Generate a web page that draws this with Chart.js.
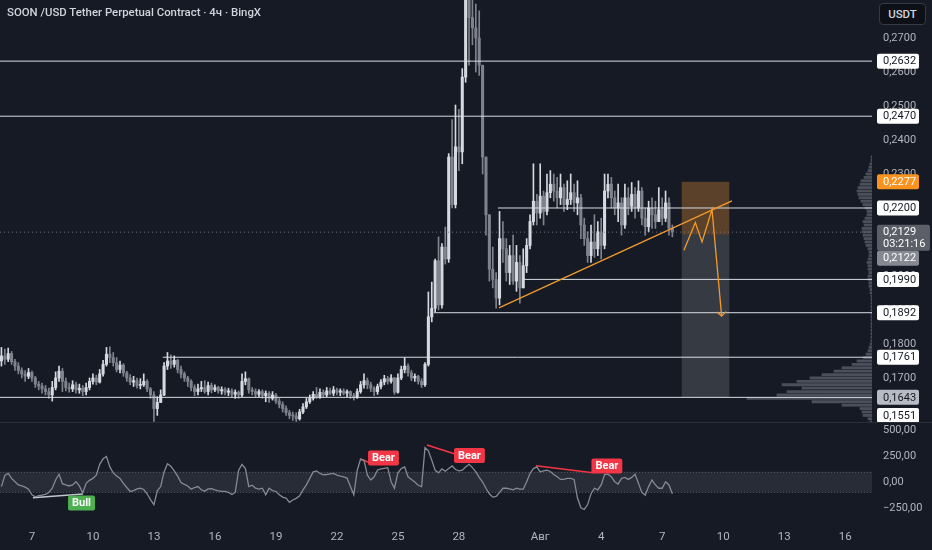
<!DOCTYPE html>
<html>
<head>
<meta charset="utf-8">
<title>SOON /USDT 4h</title>
<script src="https://cdn.jsdelivr.net/npm/chart.js@4.4.1/dist/chart.umd.min.js"></script>
<style>
  html, body { margin: 0; padding: 0; background: #161a25; }
  #wrap { position: relative; width: 932px; height: 550px; overflow: hidden; background: #161a25; }
  #priceChart { position: absolute; left: 0; top: 0; }
  #cciChart { position: absolute; left: 0; top: 423px; }
  #sep { position: absolute; left: 0; top: 422px; width: 932px; height: 1px; background: #2a2e39; }
  #title { position: absolute; left: 7px; top: 5px; font: 500 11.4px Roboto, sans-serif; line-height: 15px; color: #d1d4dc; z-index: 2; }
  #unit { position: absolute; left: 879px; top: 3px; width: 47px; height: 22px; box-sizing: border-box; border: 1px solid #363a45; border-radius: 4px; background: #0e1017; color: #d1d4dc; font: 500 11.5px Roboto, sans-serif; line-height: 20px; text-align: center; z-index: 2; }
</style>
</head>
<body>
<div id="wrap">
  <canvas id="priceChart" width="932" height="423"></canvas>
  <div id="sep"></div>
  <canvas id="cciChart" width="932" height="127"></canvas>
  <div id="title">SOON /USD Tether Perpetual Contract · 4ч · BingX</div>
  <div id="unit">USDT</div>
</div>
<script>
const xMin = 5.43, xMax = 48.32;
const priceMin = 0.15676, priceMax = 0.28118;
const cciMin = -346, cciMax = 548;

// candles: 4h each, starting 5 Jul 12:00 (day numbers counted from 1 Jul = 1)
const firstDay = 5.5;
const candleStep = 4 / 24;
const firstOpen = 0.1750;

const closes = [
  0.1765, 0.1755, 0.1772, 0.1748, 0.1735, 0.1722, 0.1712, 0.1705, 0.1716, 0.1700,
  0.1682, 0.1676, 0.1668, 0.1660, 0.1650, 0.1672, 0.1700, 0.1720, 0.1690, 0.1672,
  0.1668, 0.1680, 0.1665, 0.1670, 0.1660, 0.1672, 0.1690, 0.1700, 0.1688, 0.1712,
  0.1740, 0.1770, 0.1760, 0.1745, 0.1725, 0.1738, 0.1715, 0.1700, 0.1688, 0.1692,
  0.1678, 0.1680, 0.1690, 0.1668, 0.1650, 0.1610, 0.1628, 0.1650, 0.1735, 0.1750,
  0.1740, 0.1752, 0.1725, 0.1712, 0.1700, 0.1690, 0.1672, 0.1660, 0.1668, 0.1672,
  0.1660, 0.1678, 0.1665, 0.1672, 0.1662, 0.1666, 0.1658, 0.1662, 0.1652, 0.1658,
  0.1650, 0.1690, 0.1698, 0.1665, 0.1660, 0.1652, 0.1660, 0.1648, 0.1655, 0.1640,
  0.1650, 0.1632, 0.1622, 0.1610, 0.1598, 0.1590, 0.1588, 0.1580, 0.1600, 0.1615,
  0.1630, 0.1640, 0.1652, 0.1645, 0.1658, 0.1650, 0.1662, 0.1655, 0.1665, 0.1658,
  0.1662, 0.1655, 0.1660, 0.1648, 0.1642, 0.1660, 0.1680, 0.1692, 0.1680, 0.1670,
  0.1660, 0.1675, 0.1688, 0.1698, 0.1690, 0.1700, 0.1658, 0.1700, 0.1725, 0.1735,
  0.1715, 0.1700, 0.1705, 0.1690, 0.1680, 0.1740, 0.1880, 0.1905, 0.2045, 0.1915,
  0.2085, 0.2050, 0.2350, 0.2210, 0.2380, 0.2365, 0.2585, 0.2830, 0.2760, 0.2730,
  0.2700, 0.2620, 0.2350, 0.2180, 0.2020, 0.1990, 0.1935, 0.2110, 0.2080, 0.2010,
  0.2060, 0.1985, 0.2040, 0.1965, 0.2030, 0.2090, 0.2160, 0.2220, 0.2185, 0.2235,
  0.2190, 0.2245, 0.2270, 0.2250, 0.2230, 0.2260, 0.2210, 0.2225, 0.2245, 0.2215,
  0.2230, 0.2150, 0.2110, 0.2060, 0.2100, 0.2080, 0.2130, 0.2090, 0.2250, 0.2270,
  0.2230, 0.2200, 0.2215, 0.2150, 0.2230, 0.2205, 0.2240, 0.2200, 0.2250, 0.2170,
  0.2145, 0.2200, 0.2180, 0.2160, 0.2195, 0.2170, 0.2215, 0.2140, 0.2129
];
const highs = [
  0.1790, 0.1785, 0.1788, 0.1778, 0.1755, 0.1745, 0.1730, 0.1722, 0.1728, 0.1720,
  0.1705, 0.1690, 0.1685, 0.1678, 0.1670, 0.1690, 0.1718, 0.1735, 0.1728, 0.1700,
  0.1685, 0.1692, 0.1688, 0.1682, 0.1678, 0.1685, 0.1700, 0.1712, 0.1708, 0.1725,
  0.1752, 0.1790, 0.1792, 0.1775, 0.1760, 0.1750, 0.1742, 0.1720, 0.1710, 0.1705,
  0.1700, 0.1698, 0.1712, 0.1695, 0.1672, 0.1660, 0.1645, 0.1665, 0.1745, 0.1775,
  0.1768, 0.1765, 0.1755, 0.1735, 0.1718, 0.1705, 0.1695, 0.1680, 0.1682, 0.1690,
  0.1692, 0.1688, 0.1685, 0.1680, 0.1676, 0.1674, 0.1672, 0.1670, 0.1668, 0.1665,
  0.1662, 0.1712, 0.1718, 0.1700, 0.1672, 0.1668, 0.1666, 0.1665, 0.1662, 0.1660,
  0.1660, 0.1655, 0.1640, 0.1630, 0.1618, 0.1605, 0.1600, 0.1598, 0.1608, 0.1625,
  0.1640, 0.1650, 0.1660, 0.1672, 0.1668, 0.1665, 0.1672, 0.1670, 0.1675, 0.1670,
  0.1668, 0.1668, 0.1665, 0.1662, 0.1655, 0.1668, 0.1690, 0.1712, 0.1700, 0.1688,
  0.1675, 0.1682, 0.1695, 0.1708, 0.1705, 0.1710, 0.1702, 0.1712, 0.1735, 0.1760,
  0.1742, 0.1722, 0.1712, 0.1708, 0.1698, 0.1745, 0.1953, 0.1982, 0.2050, 0.2115,
  0.2095, 0.2144, 0.2360, 0.2460, 0.2503, 0.2490, 0.2610, 0.2950, 0.2900, 0.2840,
  0.2800, 0.2780, 0.2600, 0.2330, 0.2180, 0.2085, 0.2010, 0.2190, 0.2160, 0.2110,
  0.2090, 0.2120, 0.2090, 0.2060, 0.2080, 0.2110, 0.2180, 0.2330, 0.2240, 0.2330,
  0.2250, 0.2300, 0.2310, 0.2300, 0.2290, 0.2300, 0.2270, 0.2280, 0.2300, 0.2270,
  0.2280, 0.2240, 0.2170, 0.2130, 0.2150, 0.2180, 0.2160, 0.2170, 0.2300, 0.2300,
  0.2290, 0.2250, 0.2270, 0.2230, 0.2270, 0.2260, 0.2275, 0.2260, 0.2280, 0.2260,
  0.2200, 0.2220, 0.2230, 0.2220, 0.2260, 0.2230, 0.2250, 0.2230, 0.2150
];
const lows = [
  0.1735, 0.1740, 0.1748, 0.1740, 0.1722, 0.1712, 0.1700, 0.1690, 0.1698, 0.1690,
  0.1672, 0.1665, 0.1655, 0.1650, 0.1640, 0.1632, 0.1665, 0.1690, 0.1660, 0.1662,
  0.1658, 0.1660, 0.1655, 0.1655, 0.1648, 0.1650, 0.1665, 0.1682, 0.1680, 0.1685,
  0.1705, 0.1735, 0.1745, 0.1735, 0.1718, 0.1715, 0.1705, 0.1690, 0.1680, 0.1675,
  0.1670, 0.1668, 0.1675, 0.1660, 0.1640, 0.1572, 0.1590, 0.1640, 0.1648, 0.1725,
  0.1728, 0.1732, 0.1715, 0.1700, 0.1690, 0.1675, 0.1662, 0.1648, 0.1650, 0.1660,
  0.1655, 0.1650, 0.1656, 0.1660, 0.1655, 0.1652, 0.1650, 0.1648, 0.1645, 0.1640,
  0.1640, 0.1645, 0.1680, 0.1655, 0.1650, 0.1645, 0.1645, 0.1640, 0.1630, 0.1628,
  0.1635, 0.1625, 0.1612, 0.1600, 0.1590, 0.1580, 0.1575, 0.1572, 0.1576, 0.1595,
  0.1610, 0.1625, 0.1635, 0.1640, 0.1640, 0.1642, 0.1645, 0.1650, 0.1648, 0.1650,
  0.1648, 0.1650, 0.1645, 0.1640, 0.1635, 0.1640, 0.1655, 0.1670, 0.1668, 0.1660,
  0.1648, 0.1652, 0.1668, 0.1680, 0.1682, 0.1685, 0.1652, 0.1655, 0.1695, 0.1715,
  0.1705, 0.1692, 0.1690, 0.1682, 0.1672, 0.1675, 0.1735, 0.1865, 0.1895, 0.1900,
  0.1905, 0.2035, 0.2040, 0.2200, 0.2200, 0.2310, 0.2330, 0.2570, 0.2620, 0.2680,
  0.2600, 0.2590, 0.2300, 0.2120, 0.1985, 0.1965, 0.1905, 0.1915, 0.2040, 0.1985,
  0.1975, 0.1975, 0.1955, 0.1920, 0.1990, 0.2010, 0.2080, 0.2150, 0.2150, 0.2170,
  0.2150, 0.2180, 0.2230, 0.2220, 0.2200, 0.2210, 0.2190, 0.2195, 0.2210, 0.2190,
  0.2180, 0.2110, 0.2090, 0.2040, 0.2040, 0.2055, 0.2060, 0.2050, 0.2080, 0.2230,
  0.2200, 0.2180, 0.2160, 0.2120, 0.2140, 0.2180, 0.2190, 0.2170, 0.2190, 0.2150,
  0.2120, 0.2130, 0.2140, 0.2140, 0.2160, 0.2150, 0.2160, 0.2120, 0.2115
];
const cciValues = [
  -44, 63, 82, 35, 3, -28, -38, -50, -69, -123,
  -142, -132, -126, -120, -100, -60, 19, 75, -16, -28,
  -38, -28, 3, -38, -105, -13, 16, 35, 66, 170,
  223, 245, 145, 88, 57, 35, -13, -53, -91, -82,
  -66, -60, -72, -113, -170, -217, -85, -44, 97, 176,
  151, 107, 57, -6, -22, -38, -69, -53, -44, -75,
  -88, -66, -63, -75, -85, -91, -91, -100, -120, -100,
  113, 170, 129, -44, -31, -60, -69, -60, -123, -60,
  -82, -91, -123, -145, -154, -195, -173, -157, -132, -75,
  -28, 35, 97, 107, 82, 69, 72, 79, 82, 66,
  57, 50, 38, -44, -123, 113, 220, 210, 66, 19,
  50, 116, 126, 132, 138, 3, -60, 88, 129, 145,
  50, 25, 0, -31, -44, 330, 300, 210, 113, 88,
  126, 104, 129, 154, 120, 107, 113, 145, 170, 138,
  97, 44, 0, -60, -113, -145, -138, -100, -60, -60,
  -66, -75, -60, -69, -69, 3, 82, 129, 145, 97,
  107, 113, 101, 72, 50, 25, 25, 35, 35, 25,
  -154, -248, -264, -217, -113, -60, -75, -28, 72, 75,
  50, 3, -19, 35, 44, 25, 44, 75, -13, -100,
  -126, -44, 19, -28, -60, -60, 3, -28, -113
];

const priceTicks = [0.17, 0.18, 0.19, 0.20, 0.21, 0.22, 0.23, 0.24, 0.25, 0.26, 0.27];
const cciTicks = [-250, 0, 250, 500];
const dayTicks = [7, 10, 13, 16, 19, 22, 25, 28, 32, 35, 38, 41, 44, 47];
const dayLabels = ['7', '10', '13', '16', '19', '22', '25', '28', 'Авг', '4', '7', '10', '13', '16'];

const levelValues = [0.2632, 0.2470, 0.2200, 0.1990, 0.1892, 0.1761, 0.1643];
const levelStarts = [5.43, 5.43, 29.92, 31.15, 26.77, 13.44, 5.43];
const lastPrice = 0.2129;
const countdown = '03:21:16';
const tagValues = [0.2632, 0.2470, 0.2277, 0.2200, 0.2129, 0.2122, 0.1990, 0.1892, 0.1761, 0.1643, 0.1551];

const trendDays = [29.97, 41.43];
const trendPrices = [0.1906, 0.2221];
const pathDays = [39.07, 39.63, 39.96, 40.45, 40.92];
const pathPrices = [0.2076, 0.2157, 0.2100, 0.2196, 0.1885];
const zoneDays = [38.96, 41.30];
const zonePrices = [0.2277, 0.2122, 0.1643];

const vpLevels = [
  0.156, 0.157, 0.158, 0.159, 0.160, 0.161, 0.162, 0.163, 0.164, 0.165,
  0.166, 0.167, 0.168, 0.169, 0.170, 0.171, 0.172, 0.173, 0.174, 0.175,
  0.176, 0.177, 0.178, 0.179, 0.180, 0.181, 0.182, 0.183, 0.184, 0.185,
  0.186, 0.187, 0.188, 0.189, 0.190, 0.191, 0.192, 0.193, 0.194, 0.195,
  0.196, 0.197, 0.198, 0.199, 0.200, 0.201, 0.202, 0.203, 0.204, 0.205,
  0.206, 0.207, 0.208, 0.209, 0.210, 0.211, 0.212, 0.213, 0.214, 0.215,
  0.216, 0.217, 0.218, 0.219, 0.220, 0.221, 0.222, 0.223, 0.224, 0.225,
  0.226, 0.227, 0.228, 0.229, 0.230, 0.231, 0.232, 0.233, 0.234, 0.235
];
const vpVolumes = [
  1, 2, 4, 9, 10, 12, 30, 60, 125, 95,
  85, 70, 90, 75, 62, 50, 38, 30, 20, 15,
  9, 6, 4, 3, 2, 1, 1, 1, 1, 1,
  1, 1, 1, 1, 1, 1, 1, 1, 1, 2,
  2, 3, 3, 4, 4, 3, 4, 4, 5, 4,
  3, 3, 4, 6, 7, 8, 9, 10, 10, 8,
  9, 7, 5, 5, 7, 9, 11, 13, 14, 15,
  14, 12, 11, 8, 6, 4, 3, 2, 1, 1
];

const bandLevels = [100, -100];
const divDays = [[7.05, 9.51], [23.13, 23.53], [26.43, 27.81], [31.79, 34.59]];
const divValues = [[-151, -115], [221, 192], [356, 269], [157, 89]];
const divTexts = ['Bull', 'Bear', 'Bear', 'Bear'];
const divLabelDays = [9.44, 24.29, 28.52, 35.28];
const divLabelValues = [-202, 231, 255, 154];

const FONT = 'Roboto, sans-serif';
const AXIS_TEXT = '#b2b5be';
const UP = '#d6d9e0';
const DOWN = '#80838d';
const ORANGE = '#f29a2e';

const candleDays = closes.map((c, i) => firstDay + i * candleStep);
const opens = closes.map((c, i) => i === 0 ? firstOpen : closes[i - 1]);

const upBodies = [], downBodies = [], upWicks = [], downWicks = [];
closes.forEach((c, i) => {
  const o = opens[i];
  const wick = {x: candleDays[i], y: [Math.min(lows[i], o, c), Math.max(highs[i], o, c)]};
  const body = {x: candleDays[i], y: [o, c]};
  if (c >= o) { upBodies.push(body); upWicks.push(wick); }
  else { downBodies.push(body); downWicks.push(wick); }
});

const fmtPrice = v => v.toFixed(4).replace('.', ',');
const fmtCci = v => (v < 0 ? '−' : '') + Math.abs(v).toFixed(2).replace('.', ',');

const barBase = {type: 'bar', grouped: false, borderWidth: 0, borderSkipped: false};
const lineBase = {type: 'line', pointRadius: 0, tension: 0, fill: false};

const priceDatasets = [
  ...levelValues.map((v, k) => ({
    ...lineBase, order: 2,
    data: [{x: levelStarts[k], y: v}, {x: xMax, y: v}],
    borderColor: '#d9dce3', borderWidth: 1
  })),
  {...lineBase, order: 3, data: [{x: xMin, y: lastPrice}, {x: xMax, y: lastPrice}],
    borderColor: '#6f727d', borderWidth: 1, borderDash: [1, 3]},
  {...lineBase, order: 1, data: trendDays.map((d, k) => ({x: d, y: trendPrices[k]})),
    borderColor: ORANGE, borderWidth: 1.3},
  {...lineBase, order: 1, data: pathDays.map((d, k) => ({x: d, y: pathPrices[k]})),
    borderColor: ORANGE, borderWidth: 1.3},
  {...barBase, order: 10, data: upWicks, backgroundColor: UP, barThickness: 1},
  {...barBase, order: 10, data: downWicks, backgroundColor: DOWN, barThickness: 1},
  {...barBase, order: 9, data: upBodies, backgroundColor: UP, barThickness: 2.4, minBarLength: 1},
  {...barBase, order: 9, data: downBodies, backgroundColor: DOWN, barThickness: 2.4, minBarLength: 1},
  {...barBase, order: 20, indexAxis: 'y', xAxisID: 'xv', yAxisID: 'y',
    data: vpLevels.map((p, k) => ({x: vpVolumes[k], y: p})),
    backgroundColor: 'rgba(120, 123, 134, 0.55)', barThickness: 2.2}
];

const priceDecor = {
  id: 'priceDecor',
  beforeDatasetsDraw(chart) {
    const {ctx, scales: {x, y}} = chart;
    const left = x.getPixelForValue(zoneDays[0]);
    const right = x.getPixelForValue(zoneDays[1]);
    const yTarget = y.getPixelForValue(zonePrices[0]);
    const yEntry = y.getPixelForValue(zonePrices[1]);
    const yStop = y.getPixelForValue(zonePrices[2]);
    ctx.save();
    ctx.fillStyle = 'rgba(240, 150, 50, 0.32)';
    ctx.fillRect(left, yTarget, right - left, yEntry - yTarget);
    ctx.fillStyle = 'rgba(255, 255, 255, 0.14)';
    ctx.fillRect(left, yEntry, right - left, yStop - yEntry);
    ctx.restore();
  },
  afterDatasetsDraw(chart) {
    const {ctx, scales: {x, y}} = chart;
    const n = pathDays.length - 1;
    const px = x.getPixelForValue(pathDays[n]);
    const py = y.getPixelForValue(pathPrices[n]);
    ctx.save();
    ctx.strokeStyle = ORANGE;
    ctx.lineWidth = 1.3;
    ctx.beginPath();
    ctx.moveTo(px - 4.5, py - 3);
    ctx.lineTo(px, py + 1);
    ctx.lineTo(px + 4.5, py - 3.5);
    ctx.stroke();
    ctx.restore();
  },
  afterDraw(chart) {
    const {ctx, chartArea: area, scales: {y}} = chart;
    const tagStyle = [
      ['#ffffff', '#131722'], ['#ffffff', '#131722'], ['#f7931e', '#ffffff'], ['#ffffff', '#131722'],
      ['#5d5f68', '#ffffff'], ['#868992', '#ffffff'], ['#ffffff', '#131722'], ['#ffffff', '#131722'],
      ['#ffffff', '#131722'], ['#b8bbc3', '#131722'], ['#ffffff', '#131722']
    ];
    ctx.save();
    ctx.font = '11px ' + FONT;
    ctx.textBaseline = 'middle';
    ctx.textAlign = 'left';
    let prevBottom = -Infinity;
    tagValues.forEach((v, k) => {
      const two = v === lastPrice;
      const h = two ? 26 : 15;
      const w = two ? 53 : 42;
      let top = Math.max(y.getPixelForValue(v) - 7.5, prevBottom);
      top = Math.min(top, area.bottom - h);
      ctx.fillStyle = tagStyle[k][0];
      ctx.beginPath();
      ctx.roundRect(area.right + 5, top, w, h, 2);
      ctx.fill();
      ctx.fillStyle = tagStyle[k][1];
      ctx.fillText(fmtPrice(v), area.right + 11, top + 8);
      if (two) ctx.fillText(countdown, area.right + 11, top + 19.5);
      prevBottom = top + h;
    });
    ctx.restore();
  }
};

new Chart(document.getElementById('priceChart'), {
  type: 'bar',
  data: {datasets: priceDatasets},
  options: {
    responsive: false,
    animation: false,
    events: [],
    layout: {padding: 0},
    plugins: {legend: {display: false}, tooltip: {enabled: false}},
    scales: {
      x: {type: 'linear', min: xMin, max: xMax, offset: false, display: false, grid: {offset: false}},
      xv: {type: 'linear', axis: 'x', position: 'bottom', min: 0, max: 872, reverse: true,
        offset: false, display: false, grid: {offset: false}},
      y: {
        type: 'linear', position: 'right', min: priceMin, max: priceMax, offset: false,
        grid: {display: false, drawTicks: false, offset: false},
        border: {display: false},
        afterBuildTicks: s => { s.ticks = priceTicks.map(v => ({value: v})); },
        afterFit: s => { s.width = 60; s.paddingTop = 0; s.paddingBottom = 0; },
        ticks: {color: AXIS_TEXT, font: {family: FONT, size: 11}, padding: 11, callback: v => fmtPrice(v)}
      }
    }
  },
  plugins: [priceDecor]
});

const cciDatasets = [
  {...lineBase, data: cciValues.map((v, i) => ({x: candleDays[i], y: v})),
    borderColor: '#868a95', borderWidth: 1.3},
  ...divDays.map((days, k) => ({
    ...lineBase,
    data: days.map((d, j) => ({x: d, y: divValues[k][j]})),
    borderColor: divTexts[k] === 'Bull' ? '#c3c6ce' : '#f23645',
    borderWidth: 1.6
  }))
];

const cciDecor = {
  id: 'cciDecor',
  beforeDatasetsDraw(chart) {
    const {ctx, chartArea: area, scales: {y}} = chart;
    const top = y.getPixelForValue(bandLevels[0]);
    const bottom = y.getPixelForValue(bandLevels[1]);
    ctx.save();
    ctx.fillStyle = 'rgba(150, 155, 170, 0.14)';
    ctx.fillRect(area.left, top, area.right - area.left, bottom - top);
    ctx.strokeStyle = '#4b4f5b';
    ctx.lineWidth = 1;
    ctx.setLineDash([1, 2]);
    [top, bottom].forEach(py => {
      ctx.beginPath();
      ctx.moveTo(area.left, Math.round(py) + 0.5);
      ctx.lineTo(area.right, Math.round(py) + 0.5);
      ctx.stroke();
    });
    ctx.restore();
  },
  afterDatasetsDraw(chart) {
    const {ctx, scales: {x, y}} = chart;
    ctx.save();
    ctx.font = 'bold 11px ' + FONT;
    ctx.textAlign = 'center';
    ctx.textBaseline = 'middle';
    divTexts.forEach((t, k) => {
      const cx = x.getPixelForValue(divLabelDays[k]);
      const cy = y.getPixelForValue(divLabelValues[k]);
      const w = ctx.measureText(t).width + 8;
      ctx.fillStyle = t === 'Bull' ? '#4caf50' : '#f23645';
      ctx.beginPath();
      ctx.roundRect(cx - w / 2, cy - 7.5, w, 15, 2);
      ctx.fill();
      ctx.fillStyle = '#ffffff';
      ctx.fillText(t, cx, cy + 0.5);
    });
    ctx.restore();
  }
};

new Chart(document.getElementById('cciChart'), {
  type: 'line',
  data: {datasets: cciDatasets},
  options: {
    responsive: false,
    animation: false,
    events: [],
    layout: {padding: {top: 2}},
    plugins: {legend: {display: false}, tooltip: {enabled: false}},
    scales: {
      x: {
        type: 'linear', min: xMin, max: xMax, offset: false,
        grid: {display: false, drawTicks: false},
        border: {display: false},
        afterBuildTicks: s => { s.ticks = dayTicks.map(v => ({value: v})); },
        afterFit: s => { s.height = 32; s.paddingLeft = 0; s.paddingRight = 0; },
        ticks: {color: AXIS_TEXT, font: {family: FONT, size: 11.5}, padding: 12, maxRotation: 0,
          autoSkip: false, callback: (v, idx) => dayLabels[idx]}
      },
      y: {
        type: 'linear', position: 'right', min: cciMin, max: cciMax,
        grid: {display: false, drawTicks: false},
        border: {display: false},
        afterBuildTicks: s => { s.ticks = cciTicks.map(v => ({value: v})); },
        afterFit: s => { s.width = 60; s.paddingTop = 0; s.paddingBottom = 0; },
        ticks: {color: AXIS_TEXT, font: {family: FONT, size: 11}, padding: 11, callback: v => fmtCci(v)}
      }
    }
  },
  plugins: [cciDecor]
});
</script>
</body>
</html>
